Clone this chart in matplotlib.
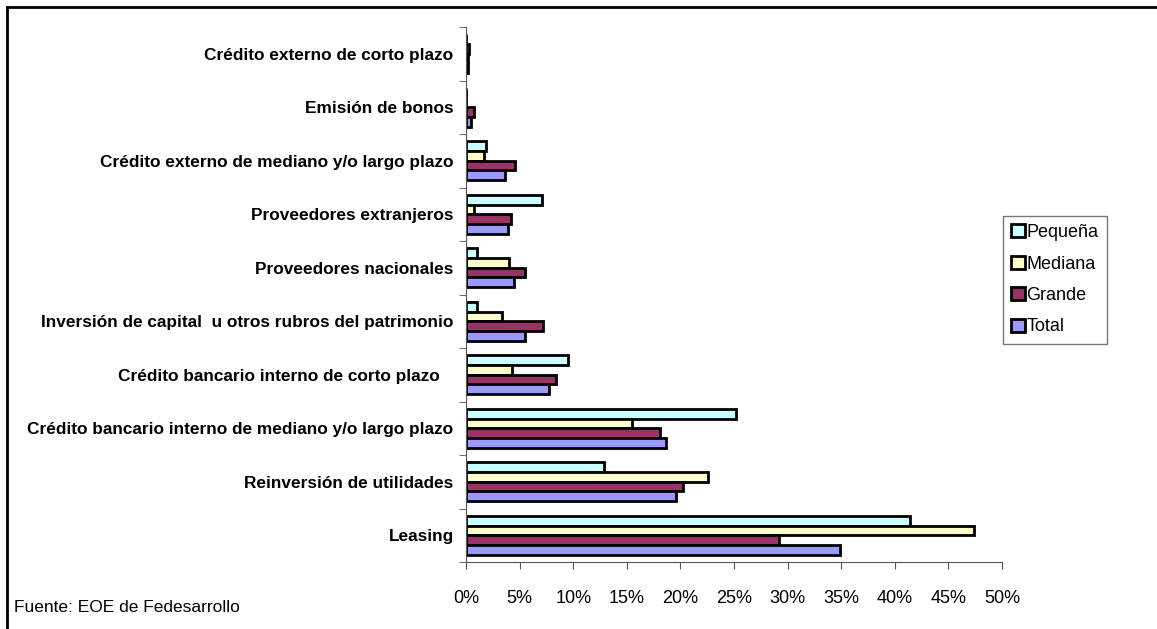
import matplotlib
matplotlib.use("Agg")
import matplotlib.pyplot as plt
import numpy as np
from matplotlib.ticker import FuncFormatter, MultipleLocator

plt.rcParams['font.family'] = ['Liberation Sans', 'DejaVu Sans']

# categories from bottom to top
categorias = [
    "Leasing",
    "Reinversión de utilidades",
    "Crédito bancario interno de mediano y/o largo plazo",
    "Crédito bancario interno de corto plazo   ",
    "Inversión de capital  u otros rubros del patrimonio",
    "Proveedores nacionales",
    "Proveedores extranjeros",
    "Crédito externo de mediano y/o largo plazo",
    "Emisión de bonos",
    "Crédito externo de corto plazo",
]

# percent values, same order as categorias
pequena = [41.4, 12.9, 25.2, 9.5, 1.0, 1.0, 7.1, 1.9, 0.0, 0.0]
mediana = [47.4, 22.6, 15.5, 4.3, 3.4, 4.0, 0.7, 1.7, 0.0, 0.3]
grande = [29.2, 20.2, 18.1, 8.4, 7.2, 5.5, 4.2, 4.6, 0.7, 0.2]
total = [34.9, 19.6, 18.7, 7.7, 5.5, 4.5, 3.9, 3.6, 0.5, 0.15]

series = [
    ("Pequeña", pequena, "#CCFFFF"),
    ("Mediana", mediana, "#FFFFCC"),
    ("Grande", grande, "#993366"),
    ("Total", total, "#9999FF"),
]

fig = plt.figure(figsize=(11.57, 6.29), dpi=100)
ax = fig.add_axes([466 / 1157, 1 - 562 / 629, 536 / 1157, 535 / 629])

y = np.arange(len(categorias))
h = 0.18
offsets = [1.5 * h, 0.5 * h, -0.5 * h, -1.5 * h]
for (nombre, vals, color), off in zip(series, offsets):
    ax.barh(y + off, vals, height=h, color=color, edgecolor="black",
            linewidth=2.0, label=nombre)

ax.set_xlim(0, 50)
ax.set_ylim(-0.5, len(categorias) - 0.5)
ax.xaxis.set_major_locator(MultipleLocator(5))
ax.xaxis.set_major_formatter(FuncFormatter(lambda v, p: f"{v:.0f}%"))

ax.set_yticks(y)
ax.set_yticklabels(categorias, fontweight="bold", fontsize=12.4)
ax.set_yticks(np.arange(-0.5, len(categorias), 1), minor=True)
ax.tick_params(axis="y", which="major", length=0, pad=9)
ax.tick_params(axis="y", which="minor", length=5, color="#555555")
ax.tick_params(axis="x", length=5, color="#555555", labelsize=13, pad=15)

for s in ["top", "right"]:
    ax.spines[s].set_visible(False)
ax.spines["left"].set_color("#555555")
ax.spines["bottom"].set_color("#555555")

leg = fig.legend(loc="upper left", bbox_to_anchor=(1003 / 1157, 1 - 216 / 629),
                 fontsize=13, frameon=True, fancybox=False, handlelength=0.75,
                 handleheight=0.75, handletextpad=0.1, labelspacing=0.8,
                 borderpad=0.45, borderaxespad=0)
leg.get_frame().set_edgecolor("#555555")
leg.get_frame().set_linewidth(1.0)

fig.text(14 / 1157, 1 - 607 / 629, "Fuente: EOE de Fedesarrollo", fontsize=12.5,
         va="center", ha="left")

# outer chart border (top and left visible)
fig.add_artist(plt.Line2D([7 / 1157, 7 / 1157], [0, 1 - 7 / 629], color="black",
                          linewidth=2, transform=fig.transFigure))
fig.add_artist(plt.Line2D([7 / 1157, 1], [1 - 7 / 629, 1 - 7 / 629], color="black",
                          linewidth=2, transform=fig.transFigure))

fig.savefig("out.png", dpi=100)
